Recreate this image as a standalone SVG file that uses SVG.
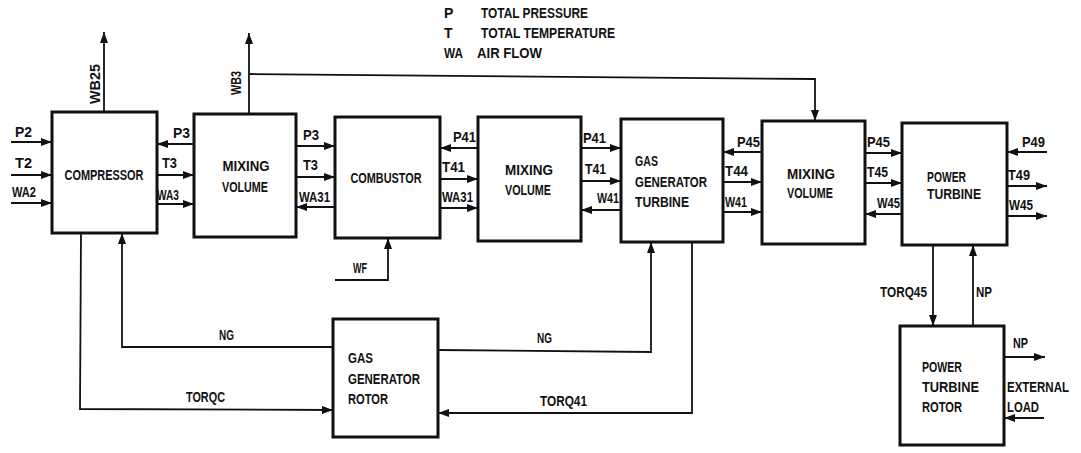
<svg xmlns="http://www.w3.org/2000/svg" width="1081" height="453" viewBox="0 0 1081 453">
<defs>
<style>
text{font-family:"Liberation Sans",Arial,sans-serif;font-weight:bold;font-size:14px;fill:#111}
.node rect{fill:#fff;stroke:#111;stroke-width:3}
.c{fill:none;stroke:#111;stroke-width:1.8;marker-end:url(#ah)}
.m{text-anchor:middle}
</style>
<marker id="ah" markerUnits="userSpaceOnUse" markerWidth="12" markerHeight="9" refX="11" refY="4" orient="auto">
<path d="M0,0 L11,4 L0,8 z" fill="#111"/>
</marker>
</defs>
<rect width="1081" height="453" fill="#fff"/>

<g id="legend">
<text x="444" y="18">P</text>
<text x="481" y="18" textLength="107" lengthAdjust="spacingAndGlyphs">TOTAL PRESSURE</text>
<text x="444" y="38">T</text>
<text x="481" y="38" textLength="134" lengthAdjust="spacingAndGlyphs">TOTAL TEMPERATURE</text>
<text x="444" y="58" textLength="19" lengthAdjust="spacingAndGlyphs">WA</text>
<text x="477" y="58" textLength="65" lengthAdjust="spacingAndGlyphs">AIR FLOW</text>
</g>

<g id="compressor" class="node">
<rect x="52" y="112" width="105" height="121"/>
<text class="m" x="104" y="180" textLength="79" lengthAdjust="spacingAndGlyphs">COMPRESSOR</text>
</g>
<g id="mixing1" class="node">
<rect x="194" y="114" width="102" height="123"/>
<text class="m" x="246" y="171" textLength="47" lengthAdjust="spacingAndGlyphs">MIXING</text>
<text class="m" x="245" y="192" textLength="46" lengthAdjust="spacingAndGlyphs">VOLUME</text>
</g>
<g id="combustor" class="node">
<rect x="335" y="117" width="105" height="121"/>
<text class="m" x="386" y="183" textLength="71" lengthAdjust="spacingAndGlyphs">COMBUSTOR</text>
</g>
<g id="mixing2" class="node">
<rect x="478" y="117" width="103" height="124"/>
<text class="m" x="529" y="175" textLength="48" lengthAdjust="spacingAndGlyphs">MIXING</text>
<text class="m" x="528" y="195" textLength="46" lengthAdjust="spacingAndGlyphs">VOLUME</text>
</g>
<g id="gg-turbine" class="node">
<rect x="621" y="119" width="102" height="123"/>
<text x="635" y="166" textLength="23" lengthAdjust="spacingAndGlyphs">GAS</text>
<text x="635" y="187" textLength="72" lengthAdjust="spacingAndGlyphs">GENERATOR</text>
<text x="635" y="207" textLength="54" lengthAdjust="spacingAndGlyphs">TURBINE</text>
</g>
<g id="mixing3" class="node">
<rect x="762" y="121" width="103" height="123"/>
<text class="m" x="811" y="179" textLength="48" lengthAdjust="spacingAndGlyphs">MIXING</text>
<text class="m" x="810" y="198" textLength="46" lengthAdjust="spacingAndGlyphs">VOLUME</text>
</g>
<g id="power-turbine" class="node">
<rect x="902" y="123" width="105" height="122"/>
<text x="927" y="182" textLength="39" lengthAdjust="spacingAndGlyphs">POWER</text>
<text x="927" y="199" textLength="54" lengthAdjust="spacingAndGlyphs">TURBINE</text>
</g>
<g id="gg-rotor" class="node">
<rect x="333" y="319" width="105" height="118"/>
<text x="348" y="363" textLength="25" lengthAdjust="spacingAndGlyphs">GAS</text>
<text x="348" y="384" textLength="72" lengthAdjust="spacingAndGlyphs">GENERATOR</text>
<text x="348" y="404" textLength="40" lengthAdjust="spacingAndGlyphs">ROTOR</text>
</g>
<g id="pt-rotor" class="node">
<rect x="900" y="326" width="104" height="119"/>
<text x="922" y="372" textLength="40" lengthAdjust="spacingAndGlyphs">POWER</text>
<text x="922" y="392" textLength="57" lengthAdjust="spacingAndGlyphs">TURBINE</text>
<text x="922" y="412" textLength="40" lengthAdjust="spacingAndGlyphs">ROTOR</text>
</g>

<g id="connectors">
<path class="c" d="M104,112 V32"/>
<path class="c" d="M249,114 V33"/>
<path class="c" d="M249,74 L815,79 V121"/>
<path class="c" d="M11,142 H52"/>
<path class="c" d="M11,175 H52"/>
<path class="c" d="M11,203 H52"/>
<path class="c" d="M194,144 H157"/>
<path class="c" d="M157,175 H194"/>
<path class="c" d="M157,204 H194"/>
<path class="c" d="M296,146 H335"/>
<path class="c" d="M296,177 H335"/>
<path class="c" d="M335,207 H296"/>
<path class="c" d="M478,148 H440"/>
<path class="c" d="M440,179 H478"/>
<path class="c" d="M440,208 H478"/>
<path class="c" d="M581,148 H621"/>
<path class="c" d="M581,181 H621"/>
<path class="c" d="M621,210 H581"/>
<path class="c" d="M762,152 H723"/>
<path class="c" d="M723,182 H762"/>
<path class="c" d="M723,212 H762"/>
<path class="c" d="M865,153 H902"/>
<path class="c" d="M865,183 H902"/>
<path class="c" d="M902,214 H865"/>
<path class="c" d="M1047,152 H1007"/>
<path class="c" d="M1007,186 H1047"/>
<path class="c" d="M1007,216 H1047"/>
<path class="c" d="M933,245 V326"/>
<path class="c" d="M973,326 V245"/>
<path class="c" d="M1004,357 H1045"/>
<path class="c" d="M1044,418 H1004"/>
<path class="c" d="M335,280 H388 V238"/>
<path class="c" d="M81,233 L80,409 L333,410"/>
<path class="c" d="M333,347 H122 V233"/>
<path class="c" d="M438,350 L651,352 V242"/>
<path class="c" d="M692,242 V413 H438"/>
</g>

<g id="labels">
<text transform="translate(100,84) rotate(-90)" class="m" textLength="40" lengthAdjust="spacingAndGlyphs">WB25</text>
<text transform="translate(241,83) rotate(-90)" class="m" textLength="24" lengthAdjust="spacingAndGlyphs">WB3</text>
<text x="15" y="137" textLength="17" lengthAdjust="spacingAndGlyphs">P2</text>
<text x="15" y="168" textLength="17" lengthAdjust="spacingAndGlyphs">T2</text>
<text x="12" y="197" textLength="24" lengthAdjust="spacingAndGlyphs">WA2</text>
<text x="173" y="138" textLength="17" lengthAdjust="spacingAndGlyphs">P3</text>
<text x="162" y="168" textLength="15" lengthAdjust="spacingAndGlyphs">T3</text>
<text x="157" y="200" textLength="22" lengthAdjust="spacingAndGlyphs">WA3</text>
<text x="303" y="140" textLength="16" lengthAdjust="spacingAndGlyphs">P3</text>
<text x="303" y="170" textLength="15" lengthAdjust="spacingAndGlyphs">T3</text>
<text x="299" y="202" textLength="31" lengthAdjust="spacingAndGlyphs">WA31</text>
<text x="453" y="142" textLength="23" lengthAdjust="spacingAndGlyphs">P41</text>
<text x="442" y="172" textLength="23" lengthAdjust="spacingAndGlyphs">T41</text>
<text x="442" y="202" textLength="31" lengthAdjust="spacingAndGlyphs">WA31</text>
<text x="583" y="143" textLength="23" lengthAdjust="spacingAndGlyphs">P41</text>
<text x="585" y="174" textLength="21" lengthAdjust="spacingAndGlyphs">T41</text>
<text x="597" y="203" textLength="22" lengthAdjust="spacingAndGlyphs">W41</text>
<text x="737" y="147" textLength="23" lengthAdjust="spacingAndGlyphs">P45</text>
<text x="725" y="176" textLength="23" lengthAdjust="spacingAndGlyphs">T44</text>
<text x="725" y="207" textLength="22" lengthAdjust="spacingAndGlyphs">W41</text>
<text x="867" y="147" textLength="23" lengthAdjust="spacingAndGlyphs">P45</text>
<text x="867" y="177" textLength="21" lengthAdjust="spacingAndGlyphs">T45</text>
<text x="877" y="208" textLength="23" lengthAdjust="spacingAndGlyphs">W45</text>
<text x="1022" y="147" textLength="23" lengthAdjust="spacingAndGlyphs">P49</text>
<text x="1008" y="180" textLength="22" lengthAdjust="spacingAndGlyphs">T49</text>
<text x="1009" y="210" textLength="24" lengthAdjust="spacingAndGlyphs">W45</text>
<text x="880" y="297" textLength="47" lengthAdjust="spacingAndGlyphs">TORQ45</text>
<text x="976" y="297" textLength="16" lengthAdjust="spacingAndGlyphs">NP</text>
<text x="1013" y="348" textLength="15" lengthAdjust="spacingAndGlyphs">NP</text>
<text x="1007" y="392" textLength="62" lengthAdjust="spacingAndGlyphs">EXTERNAL</text>
<text x="1007" y="412" textLength="32" lengthAdjust="spacingAndGlyphs">LOAD</text>
<text x="353" y="273" textLength="14" lengthAdjust="spacingAndGlyphs">WF</text>
<text x="219" y="340" textLength="15" lengthAdjust="spacingAndGlyphs">NG</text>
<text x="186" y="402" textLength="39" lengthAdjust="spacingAndGlyphs">TORQC</text>
<text x="537" y="343" textLength="15" lengthAdjust="spacingAndGlyphs">NG</text>
<text x="540" y="406" textLength="47" lengthAdjust="spacingAndGlyphs">TORQ41</text>
</g>
</svg>
